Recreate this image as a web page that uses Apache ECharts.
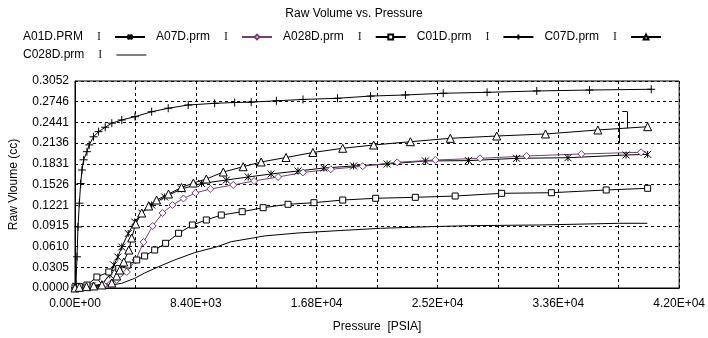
<!DOCTYPE html>
<html>
<head>
<meta charset="utf-8">
<script src="https://cdn.jsdelivr.net/npm/echarts@6/dist/echarts.min.js"></script>
<style>
  html, body { margin: 0; padding: 0; background: #fff; }
  #chart { width: 708px; height: 338px; }
</style>
</head>
<body>
<div id="chart"></div>
<script>
// tick labels as printed on the original
var xTickLabels = ['0.00E+00', '8.40E+03', '1.68E+04', '2.52E+04', '3.36E+04', '4.20E+04'];
var yTickLabels = ['0.0000', '0.0305', '0.0610', '0.0915', '0.1221', '0.1526',
                   '0.1831', '0.2136', '0.2441', '0.2746', '0.3052'];

// series names
var seriesNames = ['A01D.PRM', 'A07D.prm', 'A028D.prm', 'C01D.prm', 'C07D.prm', 'C028D.prm'];

// [pressure PSIA, raw volume cc]
var a01d = [[0, 0], [300, 0.001], [700, 0.002], [1200, 0.003], [1870, 0.0059], [2420, 0.0192],
    [2700, 0.0339], [2975, 0.0457], [3250, 0.0605], [3700, 0.0804], [4150, 0.0973], [4640, 0.1106],
    [5330, 0.1224], [6230, 0.1342], [7400, 0.1460], [8790, 0.1541], [10520, 0.1592], [12040, 0.1637],
    [13630, 0.1681], [15500, 0.1725], [17300, 0.1769], [19370, 0.1799], [21700, 0.1828],
    [24360, 0.1873], [27350, 0.1878], [30700, 0.1912], [34270, 0.1921], [38310, 0.1961], [39810, 0.1970]];

var a07d = [[0, 0], [500, 0.001], [1200, 0.002], [2000, 0.004], [2500, 0.007], [2900, 0.0118],
    [3600, 0.0236], [4220, 0.0413], [4770, 0.0678], [5400, 0.0914], [6090, 0.1106], [6780, 0.1224],
    [7540, 0.1320], [8370, 0.1401], [9410, 0.1460], [11000, 0.1519], [12450, 0.1578], [14120, 0.1637],
    [15840, 0.1703], [17780, 0.1750], [20000, 0.1795], [22400, 0.1853], [25050, 0.1887],
    [28160, 0.1912], [31390, 0.1946], [35200, 0.1976], [39350, 0.2001]];

var a028d = [[0, 0], [300, 0.002], [830, 0.0044], [1520, 0.0162], [2350, 0.0236], [3040, 0.0288],
    [3670, 0.0339], [4290, 0.0413], [4840, 0.0472], [5540, 0.0560], [6300, 0.0659], [7200, 0.0807],
    [8160, 0.0929], [9130, 0.1003], [10170, 0.1076], [11620, 0.1125], [13080, 0.1184], [14810, 0.1234],
    [16610, 0.1258], [18610, 0.1297], [20900, 0.1323], [23660, 0.1337], [26430, 0.1356],
    [29660, 0.1396], [33120, 0.1405], [36930, 0.1445], [39810, 0.1470]];

var c01d = [[0, 0], [70, 0.0069], [140, 0.046], [210, 0.090], [300, 0.125], [395, 0.154], [485, 0.174],
    [600, 0.189], [830, 0.201], [990, 0.211], [1290, 0.223], [1640, 0.2305], [2100, 0.237],
    [2560, 0.243], [3250, 0.2477], [4170, 0.2526], [5330, 0.2599], [6480, 0.2650], [7870, 0.2698],
    [9710, 0.2723], [11100, 0.2735], [12250, 0.2740], [14000, 0.2760], [15850, 0.2780],
    [18250, 0.2797], [20550, 0.2830], [22970, 0.2846], [25600, 0.2871], [28650, 0.2885],
    [32100, 0.2905], [35770, 0.2919], [40060, 0.2930]];

var c07d = [[0, 0], [300, 0.001], [800, 0.002], [1300, 0.003], [1870, 0.0045], [2560, 0.0074],
    [2900, 0.0177], [3110, 0.0265], [3390, 0.0383], [3740, 0.0560], [3940, 0.0737], [4220, 0.0944],
    [4640, 0.1106], [5120, 0.1209], [5670, 0.1297], [6500, 0.1386], [7400, 0.1482], [8230, 0.1548],
    [9130, 0.1607], [10310, 0.1710], [11690, 0.1788], [12940, 0.1858], [14670, 0.1924],
    [16540, 0.1998], [18610, 0.2060], [20760, 0.2108], [23320, 0.2157], [26090, 0.2207],
    [29320, 0.2241], [32710, 0.2271], [36350, 0.2330], [39810, 0.2378]];

var c028d = [[0, 0], [830, 0.0007], [1870, 0.0022], [3250, 0.0069], [4150, 0.0143], [4840, 0.0221],
    [5810, 0.0314], [6920, 0.0413], [8300, 0.0520], [9890, 0.0609], [10860, 0.0683], [12250, 0.0733],
    [13150, 0.0767], [15500, 0.0811], [18470, 0.0848], [21240, 0.0880], [24700, 0.0904],
    [27470, 0.0919], [32310, 0.0929], [37850, 0.0954], [39790, 0.0954]];

// the error-bar strokes drawn near the end of C07D
var c07dBars = [
    [[37850, 0.2452], [37850, 0.2134]],
    [[38400, 0.2599], [38400, 0.2355]],
    [[38050, 0.2599], [38400, 0.2599]]
];

var myChart = echarts.init(document.getElementById('chart'), null, {renderer: 'canvas'});

var font = 'Liberation Sans, Arial, sans-serif';
var purple = '#7a3b78';

function legendText(name) {
    return '{n|' + name + '}{i|I}';
}
var legendRich = {
    n: {fontSize: 12, fontFamily: font, color: '#000', padding: [0, 14, 0, 0]},
    i: {fontSize: 12, fontFamily: 'Liberation Serif, serif', color: '#222', padding: [0, 9, 0, 0]}
};

function lineSeries(name, data, symbol, size, color, fill) {
    return {
        name: name,
        type: 'line',
        data: data,
        symbol: symbol,
        symbolSize: size,
        showSymbol: symbol !== 'none',
        lineStyle: {color: color, width: 1},
        itemStyle: {color: fill, borderColor: color, borderWidth: 1},
        emphasis: {disabled: true},
        z: 3
    };
}

var xStep = 4200, yStep = 0.03052;

var option = {
    animation: false,
    backgroundColor: '#fff',
    title: {
        text: 'Raw Volume vs. Pressure',
        left: 'center',
        top: 3,
        textStyle: {fontSize: 12, fontWeight: 'normal', fontFamily: font, color: '#000'}
    },
    legend: [{
        data: seriesNames.slice(0, 5),
        left: 18,
        top: 26,
        align: 'right',
        itemGap: 10,
        itemWidth: 30,
        itemHeight: 6,
        formatter: legendText,
        textStyle: {rich: legendRich}
    }, {
        data: [{name: seriesNames[5], icon: 'rect'}],
        left: 18,
        top: 44,
        align: 'right',
        itemWidth: 30,
        itemHeight: 1,
        itemStyle: {borderWidth: 0, color: '#000'},
        formatter: legendText,
        textStyle: {rich: legendRich}
    }],
    grid: {
        left: 73, right: 28, top: 81, bottom: 50,
        show: true, borderColor: '#000', borderWidth: 1
    },
    xAxis: {
        type: 'value',
        min: 0, max: 42000, interval: xStep,
        name: 'Pressure  [PSIA]',
        nameLocation: 'middle',
        nameGap: 33,
        nameTextStyle: {fontSize: 12, fontFamily: font, color: '#000'},
        axisLine: {show: true, lineStyle: {color: '#000'}},
        axisTick: {show: false},
        axisLabel: {
            fontSize: 12, fontFamily: font, color: '#000', margin: 10,
            showMaxLabel: true, showMinLabel: true,
            formatter: function (v) {
                var k = Math.round(v / xStep);
                return k % 2 === 0 ? xTickLabels[k / 2] : '';
            }
        },
        splitLine: {show: true, lineStyle: {color: '#000', type: [3, 3], width: 1}}
    },
    yAxis: {
        type: 'value',
        min: 0, max: 0.3052, interval: yStep,
        name: 'Raw Vloume (cc)',
        nameLocation: 'middle',
        nameRotate: 90,
        nameGap: 55,
        nameTextStyle: {fontSize: 12, fontFamily: font, color: '#000'},
        axisLine: {show: true, lineStyle: {color: '#000'}},
        axisTick: {show: false},
        axisLabel: {
            fontSize: 12, fontFamily: font, color: '#000', margin: 6,
            formatter: function (v) {
                return yTickLabels[Math.round(v / yStep)];
            }
        },
        splitLine: {show: true, lineStyle: {color: '#000', type: [3, 3], width: 1}}
    },
    series: [
        lineSeries(seriesNames[0], a01d, 'path://M0,0L10,10M10,0L0,10M5,0L5,10', 7, '#000', '#000'),
        lineSeries(seriesNames[1], a07d, 'diamond', 7, purple, '#fff'),
        lineSeries(seriesNames[2], a028d, 'rect', 6, '#000', '#fff'),
        lineSeries(seriesNames[3], c01d, 'path://M5,0L5,10M0,5L10,5', 8, '#000', '#000'),
        lineSeries(seriesNames[4], c07d, 'triangle', 8, '#000', '#fff'),
        lineSeries(seriesNames[5], c028d, 'none', 0, '#000', '#000')
    ]
};

// error bars on C07D
option.series[4].markLine = {
    silent: true,
    symbol: 'none',
    label: {show: false},
    lineStyle: {color: '#000', width: 1, type: 'solid'},
    data: c07dBars.map(function (b) {
        return [{coord: b[0]}, {coord: b[1]}];
    })
};

myChart.setOption(option);
</script>
</body>
</html>
